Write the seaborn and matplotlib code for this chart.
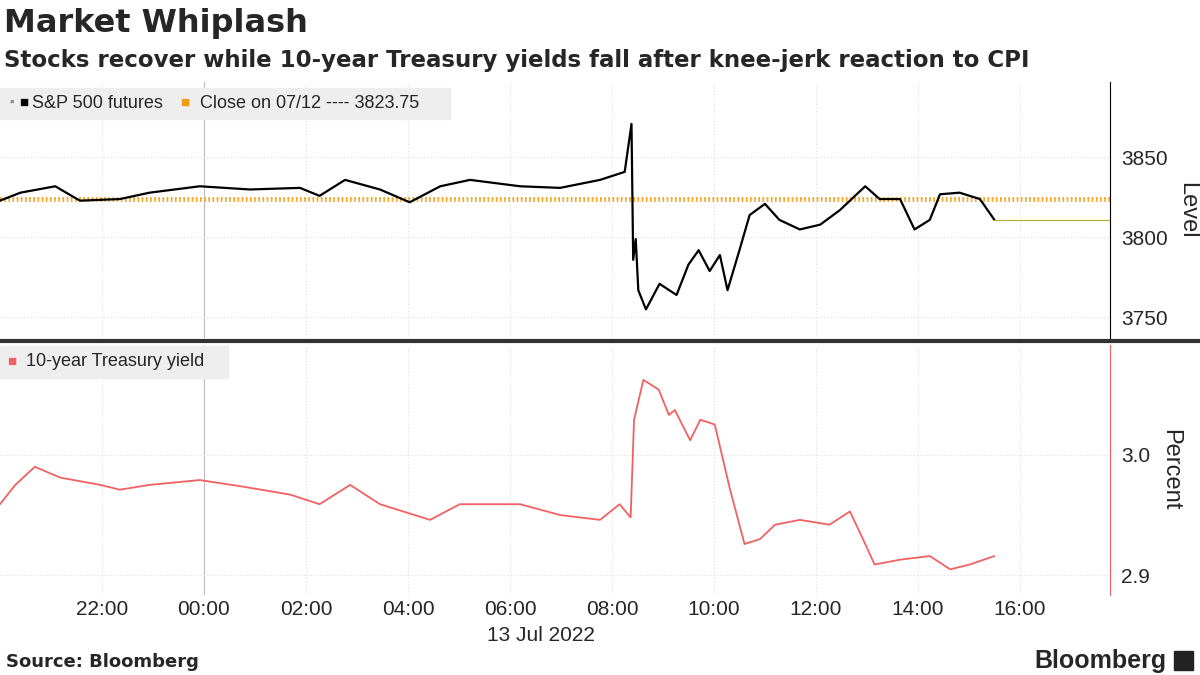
import numpy as np
import pandas as pd
import matplotlib.pyplot as plt
import seaborn as sns

# minutes since 2022-07-12 20:00 (NY time)
spx_min = [0, 24, 65, 94, 141, 176, 235, 294, 353, 376, 406, 447, 482, 518, 553, 612, 659, 706, 735,
           743, 745, 748, 751, 760, 776, 796, 810, 822, 835, 847, 856, 870, 882, 900, 917, 941,
           965, 988, 1018, 1035, 1059, 1076, 1094, 1106, 1129, 1153, 1170]
spx_val = [3823, 3828, 3832, 3823, 3824, 3828, 3832, 3830, 3831, 3826, 3836, 3830, 3822, 3832, 3836, 3832,
           3831, 3836, 3841, 3871, 3786, 3799, 3767, 3755, 3771, 3764, 3783, 3792, 3779, 3789, 3767,
           3792, 3814, 3821, 3811, 3805, 3808, 3817, 3832, 3824, 3824, 3805, 3811, 3827, 3828, 3824, 3811]
spx_last = 3811
spx_close = 3823.75

ust_min = [0, 18, 41, 71, 118, 141, 176, 235, 282, 341, 376, 412, 447, 506, 541, 612, 659, 706, 729, 742,
           746, 757, 775, 787, 794, 812, 824, 841, 859, 876, 894, 912, 941, 976, 1000, 1018, 1029, 1059,
           1094, 1118, 1141, 1170]
ust_val = [2.959, 2.975, 2.990, 2.981, 2.975, 2.971, 2.975, 2.979, 2.974, 2.967, 2.959, 2.975, 2.959, 2.946,
           2.959, 2.959, 2.950, 2.946, 2.959, 2.948, 3.029, 3.062, 3.054, 3.033, 3.037, 3.012, 3.029, 3.025,
           2.971, 2.926, 2.930, 2.942, 2.946, 2.942, 2.953, 2.926, 2.909, 2.913, 2.916, 2.905, 2.909, 2.916]

tick_min = [120, 240, 360, 480, 600, 720, 840, 960, 1080, 1200]
tick_lab = ["22:00", "00:00", "02:00", "04:00", "06:00", "08:00", "10:00", "12:00", "14:00", "16:00"]

spx = pd.DataFrame({"t": spx_min, "v": spx_val})
ust = pd.DataFrame({"t": ust_min, "v": ust_val})

sns.set_style("white")
plt.rcParams['font.family'] = ['Liberation Sans', 'DejaVu Sans']

fig = plt.figure(figsize=(12, 6.75), dpi=100)
ax1 = fig.add_axes([0.0, 0.499, 0.925, 0.379])
ax2 = fig.add_axes([0.0, 0.119, 0.925, 0.370])
xmax = 1306

for ax in (ax1, ax2):
    ax.set_xlim(0, xmax)
    for t in tick_min:
        ax.axvline(t, color="#bbbbbb" if t == 240 else "#dddddd",
                   lw=0.8, ls="-" if t == 240 else (0, (1, 2)), zorder=0)
    ax.yaxis.tick_right()
    ax.yaxis.set_label_position("right")
    for s in ("top", "left"):
        ax.spines[s].set_visible(False)
    ax.tick_params(axis="y", labelsize=15, length=0, pad=8)
    ax.set_xticks(tick_min)

sns.lineplot(data=spx, x="t", y="v", ax=ax1, color="black", lw=1.6)
ax1.plot([spx_min[-1], xmax], [spx_last, spx_last], color="#b9b23a", lw=0.9)
for d in (-1.2, 0, 1.2):
    ax1.axhline(spx_close + d, color="#f39c12", lw=1.2, ls=(0, (1, 1.5)), zorder=1)
ax1.set_ylim(3737, 3897)
ax1.set_yticks([3750, 3800, 3850])
for y in (3750, 3800, 3850):
    ax1.axhline(y, color="#dddddd", lw=0.8, ls=(0, (1, 2)), zorder=0)
ax1.set_xticklabels([])
ax1.tick_params(axis="x", length=0)
ax1.spines["bottom"].set_visible(False)
ax1.spines["right"].set_color("black")
ax1.set_xlabel("")
ax1.set_ylabel("Level", fontsize=17, rotation=270, labelpad=22)

sns.lineplot(data=ust, x="t", y="v", ax=ax2, color="#f26161", lw=1.3)
ax2.set_ylim(2.884, 3.091)
ax2.set_yticks([2.9, 3.0])
ax2.set_yticklabels(["2.9", "3.0"])
for y in (2.9, 3.0):
    ax2.axhline(y, color="#dddddd", lw=0.8, ls=(0, (1, 2)), zorder=0)
ax2.spines["right"].set_color("#f26161")
ax2.spines["bottom"].set_visible(False)
ax2.set_xticklabels(tick_lab, fontsize=15)
ax2.tick_params(axis="x", length=0, pad=4)
ax2.set_xlabel("")
ax2.set_ylabel("Percent", fontsize=17, rotation=270, labelpad=22)

# separator between panels
fig.add_artist(plt.Line2D([0, 1], [0.495, 0.495], color="#333333", lw=3))

# legend boxes
fig.patches.append(plt.Rectangle((0.0, 0.823), 0.375, 0.047, transform=fig.transFigure, color="#eeeeee"))
fig.text(0.008, 0.847, "\u25aa", fontsize=9, color="#888888", va="center")
fig.text(0.016, 0.847, "\u25a0", fontsize=11, color="black", va="center")
fig.text(0.027, 0.847, "S&P 500 futures", fontsize=13, va="center")
fig.text(0.150, 0.847, "\u25a0", fontsize=11, color="#f39c12", va="center")
fig.text(0.167, 0.847, "Close on 07/12 ---- 3823.75", fontsize=13, va="center")
fig.patches.append(plt.Rectangle((0.0, 0.440), 0.19, 0.047, transform=fig.transFigure, color="#eeeeee"))
fig.text(0.006, 0.464, "\u25a0", fontsize=11, color="#f26161", va="center")
fig.text(0.022, 0.464, "10-year Treasury yield", fontsize=13, va="center")

fig.text(0.451, 0.059, "13 Jul 2022", fontsize=15, ha="center", va="center")
fig.text(0.003, 0.965, "Market Whiplash", fontsize=23, fontweight="bold", va="center",
         family=["DejaVu Sans"])
fig.text(0.003, 0.910, "Stocks recover while 10-year Treasury yields fall after knee-jerk reaction to CPI",
         fontsize=16.5, fontweight="bold", va="center", family=["DejaVu Sans"])
fig.text(0.005, 0.019, "Source: Bloomberg", fontsize=13, fontweight="bold", va="center", family=["DejaVu Sans"])
fig.text(0.972, 0.021, "Bloomberg", fontsize=18, fontweight="bold", ha="right", va="center")
fig.patches.append(plt.Rectangle((0.978, 0.008), 0.016, 0.028, transform=fig.transFigure, color="#222222"))

fig.savefig("out.png", dpi=100)
